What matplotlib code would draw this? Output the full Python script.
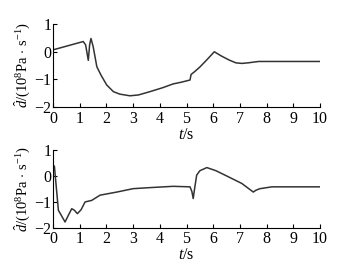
import matplotlib
matplotlib.use("Agg")
import matplotlib.pyplot as plt
import numpy as np

plt.rcParams['font.family'] = ['Liberation Serif', 'DejaVu Serif']
plt.rcParams['mathtext.fontset'] = 'custom'
plt.rcParams['mathtext.rm'] = 'Liberation Serif'
plt.rcParams['mathtext.it'] = 'Liberation Serif:italic'
plt.rcParams['axes.unicode_minus'] = True

# Top panel
t_top = [0.0, 1.13, 1.22, 1.32, 1.37, 1.42, 1.5, 1.64, 1.8, 2.01, 2.26, 2.5, 2.88, 3.2, 3.63, 4.1, 4.5, 4.8, 5.13, 5.17, 5.3, 5.5, 5.75, 6.04, 6.3, 6.6, 6.85, 7.07, 7.3, 7.7, 8.0, 10.0]
d_top = [0.07, 0.37, 0.25, -0.31, 0.25, 0.48, 0.2, -0.54, -0.85, -1.2, -1.44, -1.53, -1.59, -1.56, -1.44, -1.3, -1.16, -1.1, -1.02, -0.82, -0.72, -0.55, -0.3, 0.0, -0.15, -0.3, -0.4, -0.42, -0.4, -0.35, -0.35, -0.35]

# Bottom panel
t_bot = [0.0, 0.05, 0.2, 0.3, 0.45, 0.58, 0.7, 0.8, 0.91, 1.05, 1.2, 1.45, 1.76, 2.39, 3.0, 3.63, 4.5, 5.13, 5.2, 5.25, 5.3, 5.38, 5.5, 5.76, 6.1, 6.44, 7.07, 7.5, 7.6, 7.75, 8.2, 10.0]
d_bot = [0.35, 0.38, -1.32, -1.5, -1.77, -1.5, -1.26, -1.32, -1.45, -1.3, -1.0, -0.94, -0.74, -0.62, -0.49, -0.45, -0.4, -0.42, -0.6, -0.87, -0.5, 0.03, 0.2, 0.32, 0.2, 0.03, -0.29, -0.62, -0.55, -0.49, -0.42, -0.42]

xticks = list(range(0, 11))
yticks = [-2, -1, 0, 1]

fig = plt.figure(figsize=(3.49, 2.74), dpi=100)
ax1 = fig.add_axes([0.152, 0.609, 0.765, 0.303])
ax2 = fig.add_axes([0.152, 0.168, 0.765, 0.285])

ylab = r'$\hat{d}$/(10$^{8}$Pa $\cdot$ s$^{-1}$)'
for ax, t, d in [(ax1, t_top, d_top), (ax2, t_bot, d_bot)]:
    ax.plot(t, d, color='#333333', lw=1.1)
    ax.set_xlim(0, 10)
    ax.set_ylim(-2, 1)
    ax.set_xticks(xticks)
    ax.set_yticks(yticks)
    ax.spines['top'].set_visible(False)
    ax.spines['right'].set_visible(False)
    ax.tick_params(direction='in', length=3, labelsize=11.5, width=0.8)
    ax.tick_params(axis='x', pad=2.5)
    ax.tick_params(axis='y', pad=1)
    ax.set_xlabel(r'$t$/s', fontsize=11.5, labelpad=0)
    ax.set_ylabel(ylab, fontsize=10.5, labelpad=1)

fig.savefig('out.png', dpi=100)
